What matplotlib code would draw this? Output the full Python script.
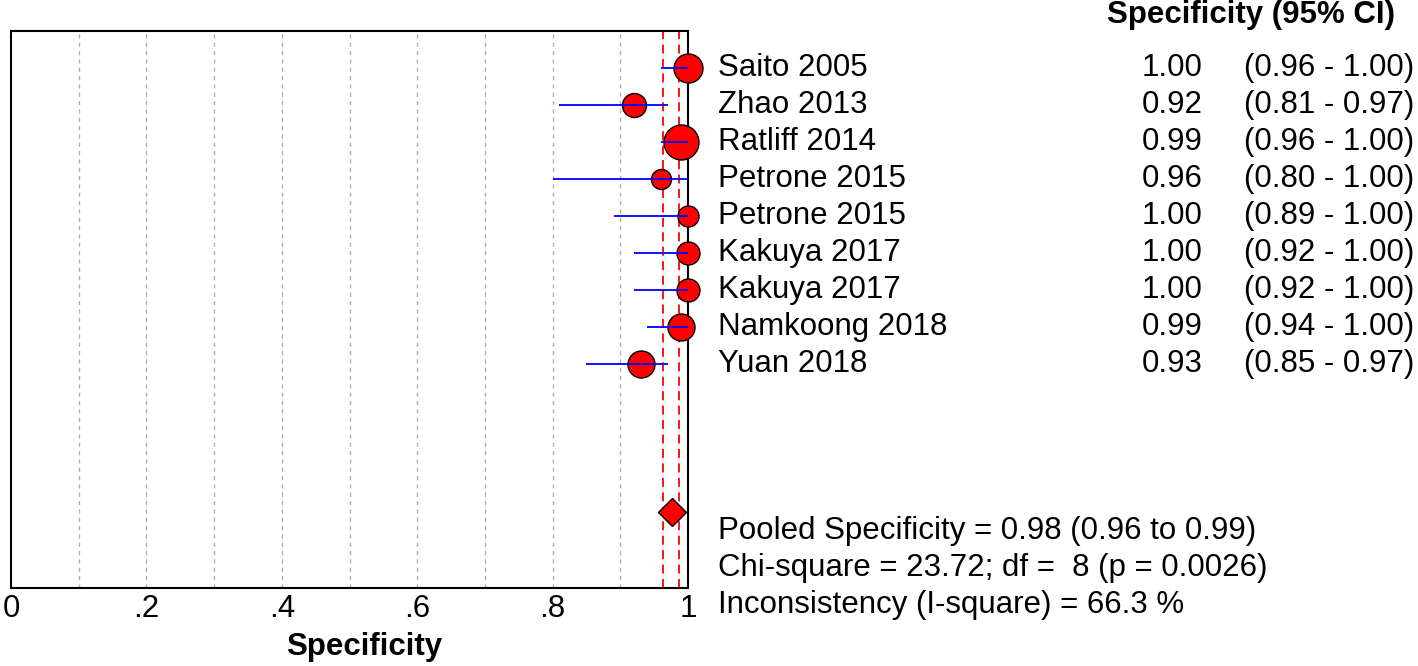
import numpy as np
import matplotlib
matplotlib.use("Agg")
import matplotlib.pyplot as plt

plt.rcParams['font.family'] = ['Liberation Sans', 'DejaVu Sans']

# studies
studies = ["Saito 2005", "Zhao 2013", "Ratliff 2014", "Petrone 2015", "Petrone 2015",
           "Kakuya 2017", "Kakuya 2017", "Namkoong 2018", "Yuan 2018"]
spec = [1.00, 0.92, 0.99, 0.96, 1.00, 1.00, 1.00, 0.99, 0.93]
ci_lo = [0.96, 0.81, 0.96, 0.80, 0.89, 0.92, 0.92, 0.94, 0.85]
ci_hi = [1.00, 0.97, 1.00, 1.00, 1.00, 1.00, 1.00, 1.00, 0.97]
# relative study weight
weight = [29, 24, 35, 20, 21, 23, 23, 27, 27]

pooled = 0.976
pooled_lo = 0.963
pooled_hi = 0.987
chi2 = 23.72
df = 8
pval = 0.0026
i2 = 66.3

fig = plt.figure(figsize=(14.18, 6.66), dpi=100)
ax = fig.add_axes([11/1418, 1 - 588/666, 677/1418, 557/666])

y = np.arange(len(studies))
ypool = 12

# grid
for g in np.arange(0.1, 1.0, 0.1):
    ax.axvline(g, color='#b0b0b0', lw=1, ls=(0, (3, 3)), zorder=0)
# pooled CI
for v in (pooled_lo, pooled_hi):
    ax.axvline(v, color='red', lw=1.3, ls=(0, (5, 3)), zorder=1)

for yi, s, w in zip(y, spec, weight):
    ax.plot(s, yi, 'o', ms=w * 0.72, mfc='red', mec='black', mew=1, zorder=3, clip_on=False)
ax.hlines(y, ci_lo, ci_hi, color='blue', lw=1.3, zorder=4)
ax.plot(pooled, ypool, 'D', ms=14, mfc='red', mec='black', mew=1, zorder=5)

ax.set_xlim(0, 1)
ax.set_ylim(14.05, -1)
ax.set_yticks([])
ax.set_xticks([0, 0.2, 0.4, 0.6, 0.8, 1])
ax.set_xticklabels(["0", ".2", ".4", ".6", ".8", "1"], fontsize=22.5)
ax.tick_params(axis='x', length=0, pad=4)
for sp in ax.spines.values():
    sp.set_linewidth(1.5)

fs = 22.5
for yi, name, s, lo, hi in zip(y, studies, spec, ci_lo, ci_hi):
    ax.text(1.0443, yi, name, fontsize=fs, va='center', ha='left', clip_on=False)
    ax.text(1.7607, yi, "%.2f" % s, fontsize=fs, va='center', ha='right', clip_on=False)
    ax.text(2.0724, yi, "(%.2f - %.2f)" % (lo, hi), fontsize=fs, va='center', ha='right', clip_on=False)

ax.text(1.619, -1.43, "Specificity (95% CI)", fontsize=fs, fontweight='bold',
        va='center', ha='left', clip_on=False)

ax.text(1.0443, 12.5, "Pooled Specificity = %.2f (%.2f to %.2f)" % (pooled, pooled_lo, pooled_hi),
        fontsize=fs, va='center', ha='left', clip_on=False)
ax.text(1.0443, 13.5, "Chi-square = %.2f; df =  %d (p = %.4f)" % (chi2, df, pval),
        fontsize=fs, va='center', ha='left', clip_on=False)
ax.text(1.0443, 14.5, "Inconsistency (I-square) = %.1f %%" % i2,
        fontsize=fs, va='center', ha='left', clip_on=False)

fig.text(364/1418, 1 - 647/666, "Specificity", fontsize=fs, fontweight='bold',
         ha='center', va='center')

fig.savefig("out.png", dpi=100)
